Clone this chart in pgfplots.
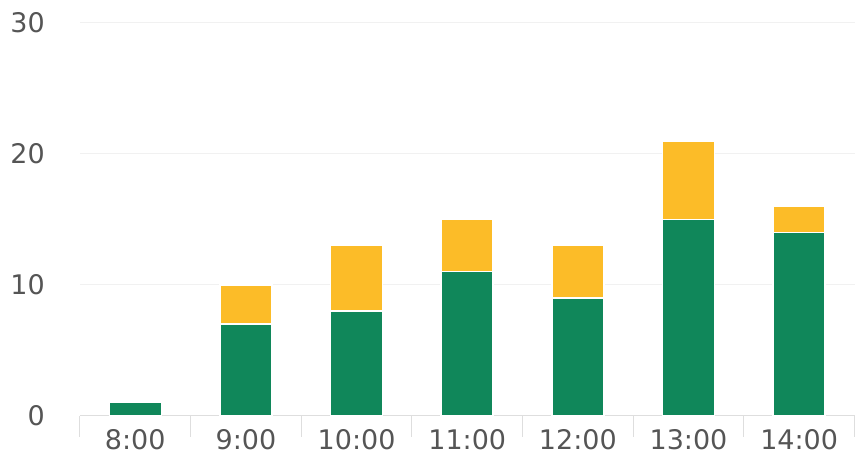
\documentclass[border=0pt]{standalone}
\usepackage{pgfplots}
\pgfplotsset{compat=1.18}
\usepackage{fontspec}
\setmainfont{DejaVu Sans}
\definecolor{cgreen}{HTML}{10875A}
\definecolor{cyellow}{HTML}{FCBC28}
\definecolor{ctext}{HTML}{555555}
\definecolor{cgrid}{HTML}{F1F1F1}
\definecolor{caxis}{HTML}{DEDEDE}
\begin{document}
\begin{tikzpicture}
\begin{axis}[
  at={(0,0)}, anchor=south west,
  scale only axis, width=775pt, height=393pt,
  ybar stacked, bar width=52pt,
  xmin=-0.5, xmax=6.5, ymin=0, ymax=30,
  xtick={0,1,2,3,4,5,6},
  xticklabels={8:00,9:00,10:00,11:00,12:00,13:00,14:00},
  minor xtick={-0.5,0.5,1.5,2.5,3.5,4.5,5.5,6.5},
  ytick={0,10,20,30},
  major tick length=0pt,
  minor tick length=21pt,
  tick align=outside,
  minor tick style={caxis, line width=1pt},
  axis x line*=bottom, axis y line*=left,
  x axis line style={caxis, line width=1pt, -},
  y axis line style={draw=none},
  ymajorgrids, major grid style={cgrid, line width=1pt},
  tick label style={font=\fontsize{27}{32}\selectfont, text=ctext, inner sep=0pt},
  yticklabel style={anchor=east, xshift=-35pt},
  xticklabel style={anchor=north, yshift=-14pt},
  /pgf/number format/assume math mode=true,
  clip=false,
]
\addplot[fill=cgreen, draw=white, line width=1.5pt] coordinates {(0,1) (1,7) (2,8) (3,11) (4,9) (5,15) (6,14)};
\addplot[fill=cyellow, draw=white, line width=1.5pt] coordinates {(0,0) (1,3) (2,5) (3,4) (4,4) (5,6) (6,2)};
\end{axis}
\useasboundingbox (-80pt,-54pt) rectangle (775pt,416pt);
\end{tikzpicture}
\end{document}
